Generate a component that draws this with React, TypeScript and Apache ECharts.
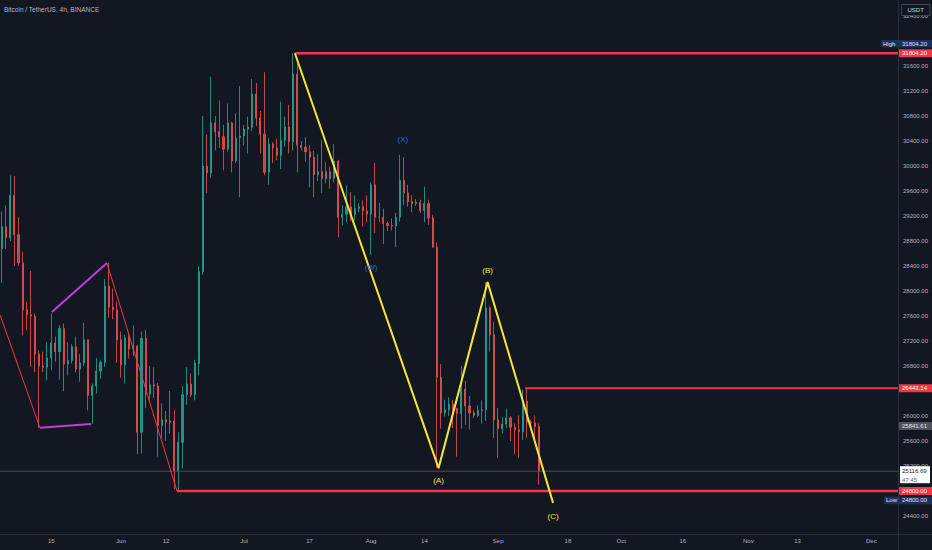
import React, { useEffect, useRef } from "react";
import * as echarts from "echarts";

const START_DAY = "2023-05-03";
const DAY_COUNT = 219;
const DAY_MS = 86400000;

// daily candles from 2023-05-03: [open, close, low, high]
const candles: number[][] = [
  [28680, 29030, 28130, 29270], [29030, 28850, 28670, 29370], [28850, 29530, 28800, 29850], [29530, 28900, 28400, 29840],
  [28900, 28450, 28400, 29180], [28450, 27700, 27290, 28630], [27700, 27620, 27370, 27830], [27620, 27600, 26790, 28320],
  [27600, 26990, 26700, 27640], [26990, 26800, 25810, 27050], [26800, 26780, 26700, 27030], [26780, 26930, 26570, 27180],
  [26930, 27170, 26730, 27650], [27170, 27030, 26870, 27270], [27030, 27400, 26580, 27450], [27400, 26830, 26400, 27480],
  [26830, 26890, 26650, 27180], [26890, 27110, 26840, 27150], [27110, 26750, 26700, 27270], [26750, 26850, 26550, 26990],
  [26850, 27220, 26800, 27490], [27220, 26330, 26090, 27220], [26330, 26480, 25870, 26520], [26480, 26720, 26360, 26930],
  [26720, 26860, 26600, 26890], [26860, 28080, 26790, 28190], [28080, 27740, 27570, 28450], [27740, 27700, 27550, 28040],
  [27700, 27220, 26850, 27830],
  // June
  [27220, 26820, 26610, 27350], [26820, 27250, 26520, 27300], [27250, 27070, 26920, 27330], [27070, 27120, 26960, 27450],
  [27120, 25740, 25390, 27130], [25740, 27240, 25400, 27350], [27240, 26350, 26130, 27380], [26350, 26500, 26250, 26800],
  [26500, 26480, 26290, 26780], [26480, 25850, 25350, 26530], [25850, 25940, 25650, 26200], [25940, 25900, 25600, 26080],
  [25900, 25920, 25720, 26400], [25920, 25120, 24830, 26100], [25120, 25580, 24800, 25740], [25580, 26340, 25160, 26480],
  [26340, 26510, 26180, 26780], [26510, 26340, 26300, 26680], [26340, 26840, 26250, 26900], [26840, 28310, 26650, 28400],
  [28310, 30000, 28260, 30800], [30000, 29890, 29570, 30500], [29890, 30690, 29810, 31430], [30690, 30550, 30250, 30800],
  [30550, 30470, 30290, 31050], [30470, 30270, 29930, 30660], [30270, 30690, 30230, 31000], [30690, 30080, 29900, 30710],
  [30080, 30450, 30050, 30840], [30450, 30480, 29500, 31280],
  // July
  [30480, 30590, 30330, 30660], [30590, 30620, 30200, 30790], [30620, 31150, 30560, 31390], [31150, 30770, 30640, 31330],
  [30770, 30510, 30200, 30880], [30510, 29900, 29850, 31500], [29900, 30350, 29700, 30450], [30350, 30290, 30050, 30380],
  [30290, 30170, 30090, 30440], [30170, 30410, 29950, 31030], [30410, 30620, 30310, 30790], [30620, 30390, 30200, 30980],
  [30390, 31470, 30250, 31804], [31470, 30330, 29900, 31640], [30330, 30300, 30250, 30400], [30300, 30230, 30070, 30460],
  [30230, 30140, 29660, 30340], [30140, 29860, 29500, 30240], [29860, 29910, 29760, 30190], [29910, 29800, 29570, 30420],
  [29800, 29910, 29720, 30060], [29910, 29800, 29640, 29990], [29800, 30080, 29740, 30350], [30080, 29180, 28860, 30100],
  [29180, 29230, 29050, 29370], [29230, 29350, 29100, 29690], [29350, 29220, 29120, 29580], [29220, 29320, 29130, 29530],
  [29320, 29350, 29260, 29410], [29350, 29280, 29030, 29450], [29280, 29230, 29100, 29530],
  // August
  [29230, 29700, 28580, 29740], [29700, 29180, 28930, 30050], [29180, 29180, 29100, 29410], [29180, 29080, 28750, 29320],
  [29080, 29050, 28960, 29110], [29050, 29040, 28970, 29160], [29040, 29180, 28700, 29250], [29180, 29770, 29110, 30180],
  [29770, 29570, 29380, 30140], [29570, 29430, 29350, 29700], [29430, 29400, 29260, 29530], [29400, 29420, 29360, 29470],
  [29420, 29290, 29250, 29460], [29290, 29400, 29100, 29670], [29400, 29170, 29060, 29460], [29170, 28700, 28700, 29220],
  [28700, 26620, 25170, 28780], [26620, 26050, 25800, 26830], [26050, 26100, 25990, 26260], [26100, 26190, 26000, 26300],
  [26190, 26120, 25810, 26260], [26120, 26040, 25350, 26130], [26040, 26430, 25800, 26800], [26430, 26160, 25860, 26560],
  [26160, 26050, 25780, 26320], [26050, 26010, 25970, 26090], [26010, 26090, 25980, 26170], [26090, 26100, 25880, 26250],
  [26100, 27730, 25920, 28140], [27730, 27300, 27030, 27760], [27300, 25940, 25650, 27500],
  // September
  [25940, 25800, 25330, 26130], [25800, 25870, 25720, 25980], [25870, 25970, 25810, 26120], [25970, 25820, 25600, 26000],
  [25820, 25780, 25390, 25880], [25780, 25750, 25330, 26010], [25750, 26240, 25620, 26420], [26240, 25900, 25650, 26443],
  [25900, 25890, 25800, 25940], [25890, 25830, 25580, 26010], [25830, 25117, 24900, 25880],
];

const timeTicks: [string, string][] = [
  ["2023-05-15", "15"], ["2023-06-01", "Jun"], ["2023-06-12", "12"], ["2023-07-01", "Jul"],
  ["2023-07-17", "17"], ["2023-08-01", "Aug"], ["2023-08-14", "14"], ["2023-09-01", "Sep"],
  ["2023-09-18", "18"], ["2023-10-01", "Oct"], ["2023-10-16", "16"], ["2023-11-01", "Nov"],
  ["2023-11-13", "13"], ["2023-12-01", "Dec"],
];

const priceMin = 24000;
const priceMax = 32656;
const priceStep = 400;
// tick labels that sit fully behind the price tags
const coveredTicks = [32000, 26400, 24800];

const highPrice = 31804.2;
const lowPrice = 24800;
const resistancePrice = 26443.14;
const prevPrice = 25841.61;
const lastPrice = 25116.69;
const countdown = "47:45";

const yellowWave: [string, number][] = [
  ["2023-07-13T22:00", 31804.2],
  ["2023-08-17T23:00", 25166],
  ["2023-08-29T22:00", 28142],
  ["2023-09-14T21:00", 24610],
];
const purpleTop: [string, number][] = [["2023-05-15T16:00", 27664], ["2023-05-29T02:00", 28447]];
const purpleBottom: [string, number][] = [["2023-05-12T18:00", 25811], ["2023-05-25T05:00", 25871]];
const redLegIn: [string, number][] = [["2023-05-03T00:00", 27620], ["2023-05-12T18:00", 25811]];
const redLegOut: [string, number][] = [["2023-05-29T02:00", 28447], ["2023-06-15T04:00", 24800]];
const highLineStart = "2023-07-13T22:00";
const lowLineStart = "2023-06-15T04:00";
const resistanceStart = "2023-09-08T02:00";

const waveLabels = [
  { text: "(X)", at: "2023-08-09T06:00", price: 30432, color: "#2962ff" },
  { text: "(W)", at: "2023-08-01T12:00", price: 28384, color: "#2962ff" },
  { text: "(A)", at: "2023-08-17T23:00", price: 24976, color: "#f5e536" },
  { text: "(B)", at: "2023-08-29T22:00", price: 28336, color: "#f5e536" },
  { text: "(C)", at: "2023-09-14T21:00", price: 24400, color: "#f5e536" },
];

const FONT = "'Liberation Sans', Arial, sans-serif";
const START_MS = Date.parse(START_DAY + "T00:00:00Z");
const categories = Array.from({ length: DAY_COUNT }, (_, i) =>
  new Date(START_MS + i * DAY_MS).toISOString().slice(0, 10)
);
const tickMap = new Map(timeTicks);
const toIdx = (t: string) => (Date.parse(t + ":00Z") - START_MS) / DAY_MS - 0.5;
const X_END = DAY_COUNT - 0.5;

const lineSeries = (data: number[][], color: string, width: number) => ({
  type: "line",
  xAxisIndex: 1,
  yAxisIndex: 0,
  data,
  symbol: "none",
  silent: true,
  lineStyle: { color, width },
  z: 5,
});
const pts = (arr: [string, number][]) => arr.map(([t, p]) => [toIdx(t), p]);

const option: any = {
  animation: false,
  backgroundColor: "#131722",
  textStyle: { fontFamily: FONT },
  grid: [
    { left: 0, right: 34, top: 0, bottom: 9 },
    { left: 0, right: 34, top: 535, bottom: 0 },
  ],
  xAxis: [
    { type: "category", gridIndex: 0, data: categories, boundaryGap: true, show: false },
    { type: "value", gridIndex: 0, min: -0.5, max: X_END, show: false },
    {
      type: "category",
      gridIndex: 1,
      data: categories,
      boundaryGap: true,
      position: "top",
      axisLine: { show: false },
      axisTick: { show: false },
      splitLine: { show: false },
      axisLabel: {
        inside: true,
        margin: 3,
        color: "#b2b5be",
        fontSize: 6,
        fontFamily: FONT,
        interval: (_i: number, v: string) => tickMap.has(v),
        formatter: (v: string) => tickMap.get(v) ?? "",
      },
    },
  ],
  yAxis: [
    {
      type: "value",
      gridIndex: 0,
      position: "right",
      min: priceMin,
      max: priceMax,
      interval: priceStep,
      splitLine: { show: false },
      axisLine: { show: false },
      axisTick: { show: false },
      axisLabel: {
        color: "#b2b5be",
        fontSize: 6,
        fontFamily: FONT,
        margin: 5,
        showMinLabel: false,
        showMaxLabel: false,
        formatter: (v: number) => (coveredTicks.includes(v) ? "" : v.toFixed(2)),
      },
    },
    { type: "value", gridIndex: 1, show: false },
  ],
  series: [
    {
      type: "candlestick",
      xAxisIndex: 0,
      yAxisIndex: 0,
      data: candles,
      barWidth: 1.6,
      silent: true,
      itemStyle: {
        color: "#26a69a",
        color0: "#ef5350",
        borderColor: "#26a69a",
        borderColor0: "#ef5350",
        borderWidth: 1,
        opacity: 0.8,
      },
    },
    lineSeries([[-0.5, lastPrice], [X_END, lastPrice]], "#4a4e5a", 1),
    lineSeries(pts(redLegIn), "#f23645", 1),
    lineSeries(pts(redLegOut), "#f23645", 1),
    lineSeries(pts(purpleTop), "#c23ddf", 2),
    lineSeries(pts(purpleBottom), "#c23ddf", 2),
    lineSeries([[toIdx(highLineStart), highPrice], [X_END, highPrice]], "#f23645", 2.5),
    lineSeries([[toIdx(lowLineStart), lowPrice], [X_END, lowPrice]], "#f23645", 2.5),
    lineSeries([[toIdx(resistanceStart), resistancePrice], [X_END, resistancePrice]], "#f23645", 2),
    lineSeries(pts(yellowWave), "#f5e536", 2),
  ],
};

const rectEl = (x: number, y: number, w: number, h: number, fill: string, stroke?: string) => ({
  type: "rect",
  shape: { x, y, width: w, height: h },
  style: stroke ? { fill, stroke, lineWidth: 1 } : { fill },
  z: 100,
});
const textEl = (x: number, y: number, text: string, fill: string, size = 6, align = "left") => ({
  type: "text",
  x,
  y,
  style: { text, fill, fontSize: size, fontFamily: FONT, align, verticalAlign: "middle" },
  z: 101,
});

export default function App() {
  const ref = useRef<HTMLDivElement>(null);
  useEffect(() => {
    const chart = echarts.init(ref.current!, null, { renderer: "svg" });
    chart.setOption(option);
    const py = (v: number) => chart.convertToPixel({ yAxisIndex: 0 }, v) as number;
    const pxy = (t: string, p: number) =>
      chart.convertToPixel({ xAxisIndex: 1, yAxisIndex: 0 } as any, [toIdx(t), p]) as number[];

    const g: any[] = [];
    // separators
    g.push({ type: "line", shape: { x1: 898.5, y1: 0, x2: 898.5, y2: 550 }, style: { stroke: "#2a2e39", lineWidth: 1 }, z: 90 });
    g.push({ type: "line", shape: { x1: 0, y1: 534.5, x2: 932, y2: 534.5 }, style: { stroke: "#2a2e39", lineWidth: 1 }, z: 90 });
    // title
    g.push(textEl(4, 9, "Bitcoin / TetherUS, 4h, BINANCE", "#b2b5be", 6.5));
    // currency box
    g.push(rectEl(901.5, 4.5, 28.5, 11, "#131722", "#434651"));
    g.push(textEl(915.7, 10, "USDT", "#d1d4dc", 6, "center"));

    const priceBox = (yc: number, text: string, bg: string, fg: string, h = 8) => {
      g.push(rectEl(899, yc - h / 2, 33, h, bg));
      g.push(textEl(902, yc, text, fg));
    };
    const yHigh = py(highPrice);
    const yLow = py(lowPrice);
    // High marker
    g.push(rectEl(881, yHigh - 9.6 - 3.75, 17.5, 7.5, "#1c305e"));
    g.push(textEl(883, yHigh - 9.6, "High", "#e0e3eb"));
    priceBox(yHigh - 9.6, highPrice.toFixed(2), "#1c305e", "#e0e3eb", 7.5);
    priceBox(yHigh, highPrice.toFixed(2), "#f23645", "#ffffff");
    priceBox(py(resistancePrice), resistancePrice.toFixed(2), "#f23645", "#ffffff");
    priceBox(py(prevPrice), prevPrice.toFixed(2), "#50535e", "#e8e8e8");
    // last price + countdown
    const yLast = py(lastPrice);
    g.push(rectEl(900, yLast - 5, 30, 17, "#ffffff"));
    g.push(textEl(902, yLast, lastPrice.toFixed(2), "#131722"));
    g.push(textEl(902, yLast + 8.5, countdown, "#5d606b"));
    priceBox(yLow, lowPrice.toFixed(2), "#f23645", "#ffffff");
    // Low marker
    g.push(rectEl(884, yLow + 9.4 - 3.75, 14.5, 7.5, "#1c305e"));
    g.push(textEl(886, yLow + 9.4, "Low", "#e0e3eb"));
    priceBox(yLow + 9.4, lowPrice.toFixed(2), "#1c305e", "#e0e3eb", 7.5);

    // wave labels
    waveLabels.forEach((w) => {
      const [x, y] = pxy(w.at, w.price);
      g.push(textEl(x, y, w.text, w.color, 8, "center"));
    });

    chart.setOption({ graphic: g });
    return () => chart.dispose();
  }, []);
  return (
    <div
      ref={ref}
      style={{ position: "absolute", left: 0, top: 0, width: 932, height: 550 }}
    />
  );
}
